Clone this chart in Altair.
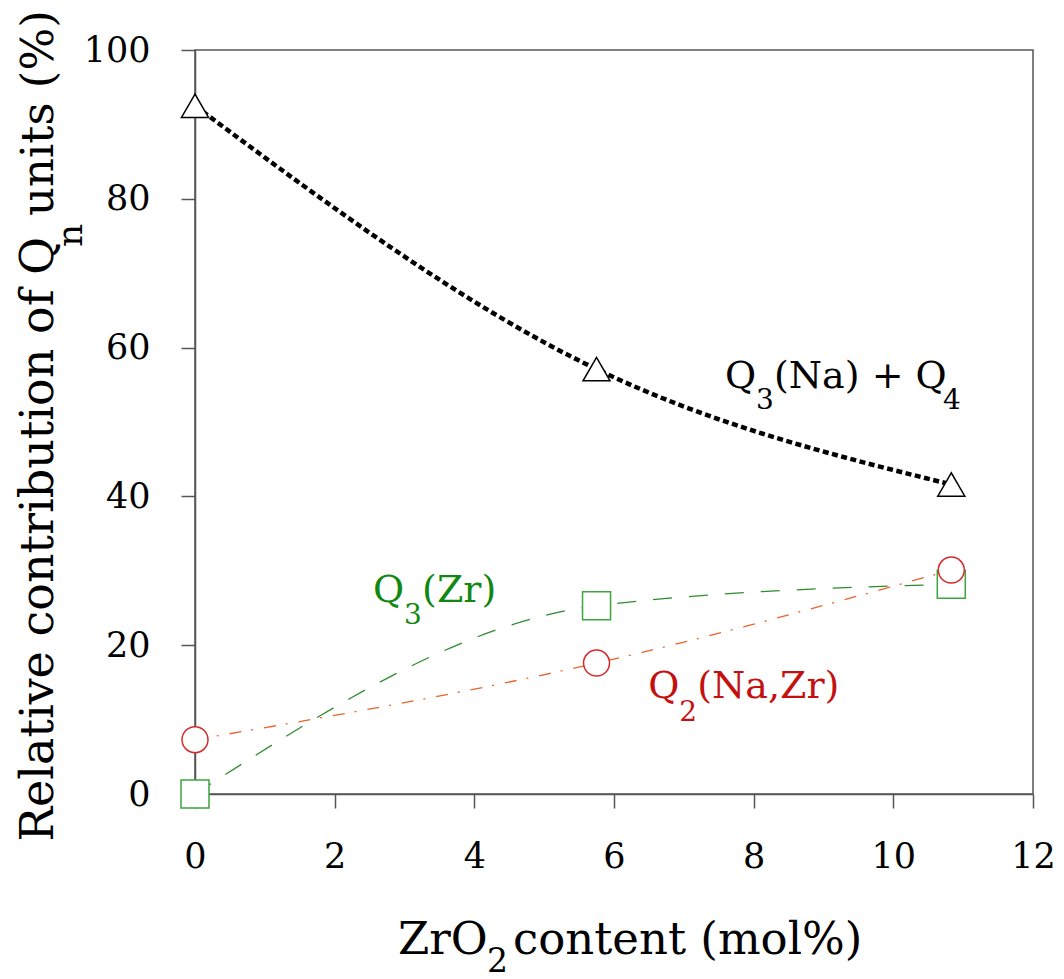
import altair as alt
import pandas as pd

# ---- data ----
zro2_content = [0.0, 5.75, 10.83]          # mol% ZrO2
q3na_q4 = [92.5, 57.1, 41.6]               # Q3(Na) + Q4
q3zr = [0.0, 25.3, 28.2]                   # Q3(Zr)
q2nazr = [7.3, 17.6, 30.1]                 # Q2(Na,Zr)

x_tick_values = [0, 2, 4, 6, 8, 10, 12]
y_tick_values = [0, 20, 40, 60, 80, 100]

FONT = "DejaVu Serif"
AXIS_COLOR = "#555555"

xscale = alt.Scale(domain=[0, 12], nice=False, zero=False)
yscale = alt.Scale(domain=[0, 100], nice=False, zero=False)
common_axis = dict(grid=False, title=None, labelFont=FONT, labelFontSize=35,
                   labelColor="black", tickSize=14, tickWidth=1.5,
                   tickColor=AXIS_COLOR, domainColor=AXIS_COLOR, domainWidth=1.5,
                   labelFlush=False, labelOverlap=False, format="d")
xaxis = alt.Axis(values=x_tick_values, labelPadding=31, **common_axis)
yaxis = alt.Axis(values=y_tick_values, labelPadding=31, **common_axis)


def frame(vals):
    return pd.DataFrame({"zro2": zro2_content, "value": vals})


def enc(chart):
    return chart.encode(
        x=alt.X("zro2:Q", scale=xscale, axis=xaxis),
        y=alt.Y("value:Q", scale=yscale, axis=yaxis),
    )


def line(vals, color, width, dash):
    return enc(alt.Chart(frame(vals)).mark_line(
        interpolate="monotone", color=color, strokeWidth=width,
        strokeDash=dash, clip=False))


def points(vals, shape, size, stroke):
    return enc(alt.Chart(frame(vals)).mark_point(
        shape=shape, size=size, filled=True, fill="white", stroke=stroke,
        strokeWidth=1.5, opacity=1, fillOpacity=1, clip=False))


def annot(text, x, y, dx, dy, size, color):
    return alt.Chart(pd.DataFrame({"label": [text]})).mark_text(
        align="left", baseline="alphabetic", dx=dx, dy=dy, font=FONT,
        fontSize=size, color=color).encode(
        x=alt.XDatum(x, type="quantitative", scale=xscale, axis=xaxis),
        y=alt.YDatum(y, type="quantitative", scale=yscale, axis=yaxis),
        text="label:N")


def title_piece(text, px, py, size, align="left", angle=0):
    return alt.Chart(pd.DataFrame({"label": [text]})).mark_text(
        align=align, baseline="alphabetic", angle=angle, font=FONT,
        fontSize=size, color="black").encode(
        x=alt.value(px), y=alt.value(py), text="label:N")


GREEN_LINE = "#2e8b2e"
GREEN_MARK = "#3da53d"
GREEN_TEXT = "#118811"
RED_LINE = "#e8632e"
RED_MARK = "#d62a2a"
RED_TEXT = "#c41010"

ANN = 38   # annotation font size
SUB = 28   # subscript font size

layers = [
    line(q3zr, GREEN_LINE, 1.3, [19, 17]),
    line(q2nazr, RED_LINE, 1.3, [12, 10, 2, 11]),
    line(q3na_q4, "black", 4.5, [6, 3.5]),
    points(q3na_q4, "triangle-up", 729, "black"),
    points(q3zr, "square", 784, GREEN_MARK),
    points(q2nazr, "circle", 676, RED_MARK),
    # series labels
    annot("Q", 7.59, 54.6, 0, 0, ANN, "black"),
    annot("3", 7.59, 54.6, 31, 21, SUB, "black"),
    annot("(Na) + Q", 7.59, 54.6, 49, 0, ANN, "black"),
    annot("4", 7.59, 54.6, 218, 21, SUB, "black"),
    annot("Q", 2.55, 25.8, 0, 0, ANN, GREEN_TEXT),
    annot("3", 2.55, 25.8, 31, 22, SUB, GREEN_TEXT),
    annot("(Zr)", 2.55, 25.8, 49, 0, ANN, GREEN_TEXT),
    annot("Q", 6.49, 12.9, 0, 0, ANN, RED_TEXT),
    annot("2", 6.49, 12.9, 31, 23, SUB, RED_TEXT),
    annot("(Na,Zr)", 6.49, 12.9, 49, 0, ANN, RED_TEXT),
    # x-axis title
    title_piece("ZrO", 203, 904, 45),
    title_piece("2", 292, 922, 33),
    title_piece("content (mol%)", 318, 904, 45),
    # y-axis title (rotated)
    title_piece("Relative contribution of Q", -142, 187, 46, align="right", angle=270),
    title_piece("n", -113, 197, 36, align="left", angle=270),
    title_piece("units (%)", -142, 166, 45, align="left", angle=270),
]

chart = alt.layer(*layers).properties(
    width=838, height=744,
    autosize=alt.AutoSizeParams(type="none"),
    padding={"left": 187, "top": 42, "right": 23, "bottom": 185},
).configure_view(stroke=AXIS_COLOR, strokeWidth=1.5)

chart.save("out.html", embed_options={"renderer": "svg", "actions": False})
